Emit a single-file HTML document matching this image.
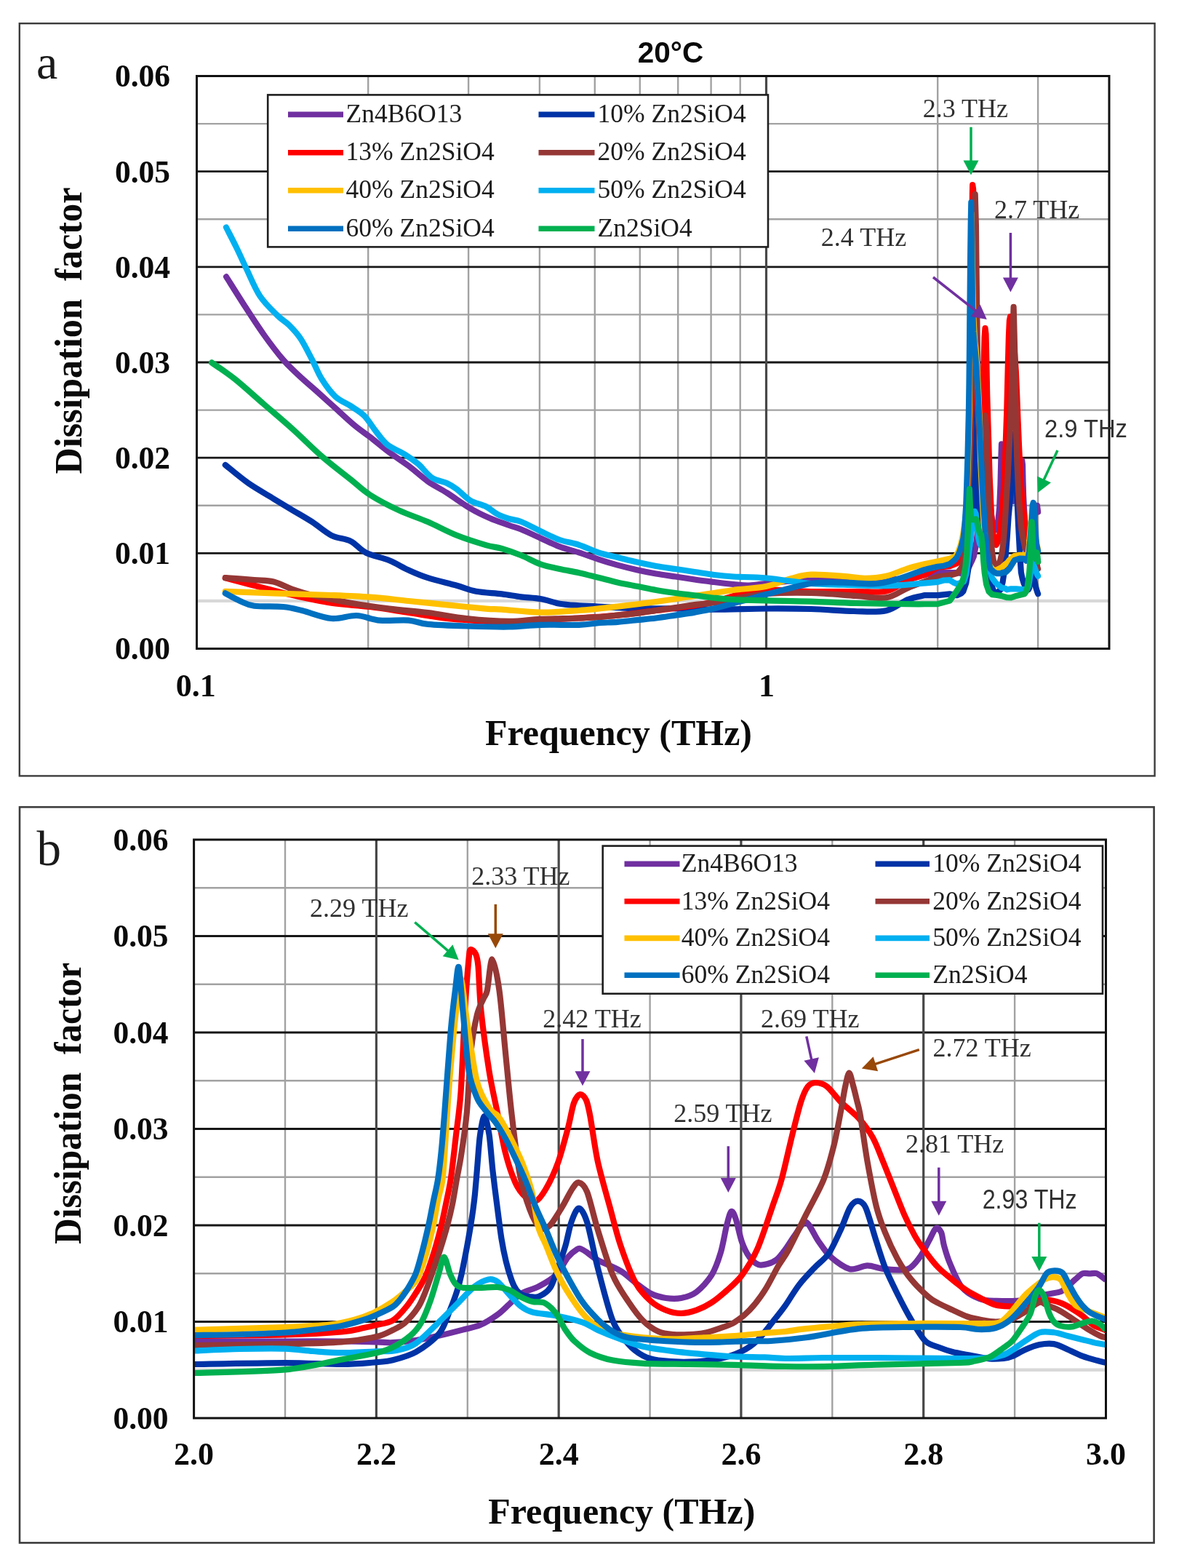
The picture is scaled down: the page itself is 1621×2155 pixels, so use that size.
<!DOCTYPE html>
<html><head><meta charset="utf-8"><title>Dissipation factor vs frequency</title>
<style>
html,body{margin:0;padding:0;background:#fff;}
body{width:1621px;height:2155px;overflow:hidden;}
svg{display:block;}
</style></head><body>
<svg width="1621" height="2155" viewBox="0 0 1621 2155"><rect x="26.8" y="32.2" width="1560.8" height="1034.2" fill="none" stroke="#3c3c3c" stroke-width="2.4"/><rect x="27" y="1109.2" width="1559.6" height="1011.2" fill="none" stroke="#3c3c3c" stroke-width="2.6"/><line x1="270.5" y1="825.9" x2="1525" y2="825.9" stroke="#d8d8d8" stroke-width="4.4"/><line x1="270.5" y1="694.8" x2="1525" y2="694.8" stroke="#a2a2a2" stroke-width="2.4"/><line x1="270.5" y1="563.6" x2="1525" y2="563.6" stroke="#a2a2a2" stroke-width="2.4"/><line x1="270.5" y1="432.4" x2="1525" y2="432.4" stroke="#a2a2a2" stroke-width="2.4"/><line x1="270.5" y1="301.2" x2="1525" y2="301.2" stroke="#a2a2a2" stroke-width="2.4"/><line x1="270.5" y1="170.1" x2="1525" y2="170.1" stroke="#a2a2a2" stroke-width="2.4"/><line x1="506.2" y1="104.5" x2="506.2" y2="891.5" stroke="#a2a2a2" stroke-width="2.4"/><line x1="644.1" y1="104.5" x2="644.1" y2="891.5" stroke="#a2a2a2" stroke-width="2.4"/><line x1="741.9" y1="104.5" x2="741.9" y2="891.5" stroke="#a2a2a2" stroke-width="2.4"/><line x1="817.8" y1="104.5" x2="817.8" y2="891.5" stroke="#a2a2a2" stroke-width="2.4"/><line x1="879.8" y1="104.5" x2="879.8" y2="891.5" stroke="#a2a2a2" stroke-width="2.4"/><line x1="932.2" y1="104.5" x2="932.2" y2="891.5" stroke="#a2a2a2" stroke-width="2.4"/><line x1="977.6" y1="104.5" x2="977.6" y2="891.5" stroke="#a2a2a2" stroke-width="2.4"/><line x1="1017.7" y1="104.5" x2="1017.7" y2="891.5" stroke="#a2a2a2" stroke-width="2.4"/><line x1="1289.2" y1="104.5" x2="1289.2" y2="891.5" stroke="#a2a2a2" stroke-width="2.4"/><line x1="1427.1" y1="104.5" x2="1427.1" y2="891.5" stroke="#a2a2a2" stroke-width="2.4"/><line x1="270.5" y1="760.3" x2="1525" y2="760.3" stroke="#161616" stroke-width="2.8"/><line x1="270.5" y1="629.2" x2="1525" y2="629.2" stroke="#161616" stroke-width="2.8"/><line x1="270.5" y1="498" x2="1525" y2="498" stroke="#161616" stroke-width="2.8"/><line x1="270.5" y1="366.8" x2="1525" y2="366.8" stroke="#161616" stroke-width="2.8"/><line x1="270.5" y1="235.7" x2="1525" y2="235.7" stroke="#161616" stroke-width="2.8"/><line x1="1053.5" y1="104.5" x2="1053.5" y2="891.5" stroke="#484848" stroke-width="3.2"/><line x1="266.6" y1="1882.8" x2="1520.5" y2="1882.8" stroke="#d8d8d8" stroke-width="4.4"/><line x1="266.6" y1="1750.2" x2="1520.5" y2="1750.2" stroke="#a2a2a2" stroke-width="2.4"/><line x1="266.6" y1="1617.8" x2="1520.5" y2="1617.8" stroke="#a2a2a2" stroke-width="2.4"/><line x1="266.6" y1="1485.2" x2="1520.5" y2="1485.2" stroke="#a2a2a2" stroke-width="2.4"/><line x1="266.6" y1="1352.8" x2="1520.5" y2="1352.8" stroke="#a2a2a2" stroke-width="2.4"/><line x1="266.6" y1="1220.2" x2="1520.5" y2="1220.2" stroke="#a2a2a2" stroke-width="2.4"/><line x1="392" y1="1154" x2="392" y2="1949" stroke="#a2a2a2" stroke-width="2.4"/><line x1="642.8" y1="1154" x2="642.8" y2="1949" stroke="#a2a2a2" stroke-width="2.4"/><line x1="893.6" y1="1154" x2="893.6" y2="1949" stroke="#a2a2a2" stroke-width="2.4"/><line x1="1144.3" y1="1154" x2="1144.3" y2="1949" stroke="#a2a2a2" stroke-width="2.4"/><line x1="1395.1" y1="1154" x2="1395.1" y2="1949" stroke="#a2a2a2" stroke-width="2.4"/><line x1="266.6" y1="1816.5" x2="1520.5" y2="1816.5" stroke="#161616" stroke-width="2.8"/><line x1="266.6" y1="1684" x2="1520.5" y2="1684" stroke="#161616" stroke-width="2.8"/><line x1="266.6" y1="1551.5" x2="1520.5" y2="1551.5" stroke="#161616" stroke-width="2.8"/><line x1="266.6" y1="1419" x2="1520.5" y2="1419" stroke="#161616" stroke-width="2.8"/><line x1="266.6" y1="1286.5" x2="1520.5" y2="1286.5" stroke="#161616" stroke-width="2.8"/><line x1="517.4" y1="1154" x2="517.4" y2="1949" stroke="#484848" stroke-width="3.2"/><line x1="768.2" y1="1154" x2="768.2" y2="1949" stroke="#484848" stroke-width="3.2"/><line x1="1018.9" y1="1154" x2="1018.9" y2="1949" stroke="#484848" stroke-width="3.2"/><line x1="1269.7" y1="1154" x2="1269.7" y2="1949" stroke="#484848" stroke-width="3.2"/><defs><clipPath id="cb"><rect x="266.6" y="1154" width="1253.9" height="795"/></clipPath><clipPath id="ca"><rect x="270.5" y="104.5" width="1254.5" height="787"/></clipPath></defs><g clip-path="url(#ca)" fill="none" stroke-width="8.2" stroke-linejoin="round" stroke-linecap="round"><path d="M311.1,380.4C315.3,387 327.7,406.9 336.3,420.2C344.9,433.5 354,447.6 362.8,460C371.6,472.4 381.4,485.2 389.4,494.5C397.4,503.8 403.1,508.6 410.6,515.7C418.1,522.8 426.1,529.4 434.5,536.9C442.9,544.4 452.2,552.8 461,560.8C469.8,568.8 479.6,578 487.5,584.6C495.4,591.2 500.7,594.4 508.7,600.6C516.7,606.8 526.4,615.2 535.3,621.8C544.1,628.4 553,633.7 561.8,640.3C570.6,646.9 579.5,655.4 588.3,661.6C597.1,667.8 605.1,671.3 614.8,677.5C624.5,683.7 637,693 646.7,698.7C656.4,704.5 664.3,708.1 673.2,712C682.1,715.9 692.8,719.4 700,722C707.2,724.6 709.3,724.6 716.5,727.5C723.7,730.4 734.1,735.5 743,739.5C751.9,743.5 760.8,748.1 769.6,751.4C778.4,754.7 787.2,756.5 796,759.4C804.8,762.3 813.8,765.7 822.6,768.6C831.4,771.5 840.1,774.2 849,776.6C857.9,779 866.9,781.2 875.7,783.2C884.5,785.2 893.2,787 902,788.5C910.8,790 919.9,791.2 928.7,792.5C937.5,793.8 946.1,795.2 955,796.5C963.9,797.8 972.9,798.9 981.8,800C990.7,801.1 1000.3,802.2 1008.3,803C1016.3,803.8 1021.4,804.8 1030,804.5C1038.6,804.2 1048.3,802.1 1060,801C1071.7,799.9 1085,798.7 1100,798C1115,797.3 1133.3,797.2 1150,797C1166.7,796.8 1183.7,797.4 1200,797C1216.3,796.6 1236.3,796 1248,794.8C1259.7,793.6 1266.3,790.8 1270,790 L1289.2,787.1 1297.7,787.1 1305.8,787.1 1315.7,787.1 1321.7,788 1324.4,788.7 1328.3,785.6 1332.2,779.2 1336,771.3 1338.8,764.9 1341.6,750.6 1343.5,736.4 1345.3,722 1348.1,712.5 1350.8,696.7 1352.6,672.8 1354,661.7 1354.7,661.3 1355.7,666.8 1357.2,676.5 1360.7,691 1363,707.6 1365.2,722 1367.5,728.2 1369.7,728.2 1372,719.9 1374.2,697.2 1375.5,666.2 1376.4,629 1377,610.4 1377.7,620.8 1378.5,651.7 1379.6,672.4 1380.9,682.7 1382.2,681.6 1383.5,675.7 1384.7,662.5 1386.2,641 1387.6,624.9 1389.3,650.5 1391,672 1393.7,688.8 1396.1,684 1398.5,688.8 1401.5,688.8 1403.2,672 1404.3,650.5 1405.3,633.2 1406,638.7 1406.4,657.3 1407.1,681.3 1408.7,713.5 1411,729.2 1413.2,732 1416.9,731 1419.6,723.2 1421.5,719.3 1422.4,711.4 1423.3,702.6 1424.2,694.8 1425.1,694.9 1426,694.8 1427.1,703.6" stroke="#7030A0"/><path d="M309.8,639C315.1,643.2 330.6,656.5 341.6,664.2C352.7,671.9 365.9,679.2 376.1,685.4C386.3,691.6 393.8,696.1 402.6,701.4C411.5,706.7 420.4,711.6 429.2,717.3C438,723 446.9,731.4 455.7,735.8C464.5,740.2 474.2,739.8 482.2,743.8C490.1,747.8 494.5,755.3 503.4,759.7C512.2,764.1 525.6,766.3 535.3,770.3C545,774.3 553,779.6 561.8,783.6C570.6,787.6 577.3,790.7 588.3,794.2C599.3,797.7 617,801.7 628,804.8C639,807.9 644.3,810.9 654.6,812.8C664.9,814.7 679.7,815.1 690,816.4C700.3,817.7 707.7,819.3 716.5,820.4C725.3,821.5 734.1,821.5 743,823C751.9,824.5 760.8,828.2 769.6,829.7C778.4,831.2 787.2,831.6 796,832.3C804.8,832.9 809.3,832.9 822.6,833.6C835.9,834.3 858,835.8 875.7,836.3C893.4,836.8 911,836.1 928.7,836.3C946.4,836.5 960.9,837.6 981.8,837.6C1002.7,837.6 1031.8,836.6 1054,836.5C1076.2,836.4 1095,836.4 1115,837C1135,837.6 1156.8,839.6 1174,840C1191.2,840.4 1206.1,841.9 1218.4,839.2C1230.7,836.5 1239.1,827.5 1248,824C1256.9,820.5 1268,819 1272,818 L1289.2,818.2 1305.8,816.4 1315.7,818.2 1321.7,815.5 1324.4,812.6 1328.3,801.4 1332.2,776.1 1333.9,744 1335.1,717.9 1335.8,695.9 1336.6,659.1 1337.2,629.7 1337.6,607.4 1337.9,585.6 1338.3,546 1338.8,506.4 1339.5,480.7 1340.2,505.4 1340.8,556.9 1341.6,608.4 1342.2,647 1342.9,678.7 1343.8,704.4 1344.6,717.3 1345.5,723.9 1346.6,726.2 1348.1,726.2 1349.9,714.1 1351.2,685.6 1352.2,657 1353.1,625.2 1354.3,606.1 1355.6,624.8 1357.2,686.9 1359.5,759.2 1361.8,790.2 1364.1,806.8 1366.4,812.9 1370.8,815 1375.3,810.8 1378.5,800.5 1380.7,786.1 1382.9,761.2 1384.7,739 1386.6,710.2 1388.8,686.4 1390.8,667.3 1392.5,633.8 1393.7,605.2 1394.8,596.2 1395.8,605.2 1397.3,650.5 1398.5,686.4 1400.1,722.2 1402,758.1 1403.9,786.7 1405.7,795.5 1407.5,801.4 1409.4,805.4 1412.3,810.8 1414.1,810.3 1415.3,807.4 1416.9,798.4 1418.7,791.6 1420.6,790.6 1422.4,798.4 1424.2,807.3 1426,813.1 1427.1,816.1" stroke="#0033A6"/><path d="M309.8,794.2C316.4,796 334.1,800.8 349.6,804.8C365.1,808.8 384.9,814 402.6,818C420.3,822 438,826 455.7,828.7C473.4,831.4 491,831.8 508.7,834C526.4,836.2 544.1,839.3 561.8,842C579.5,844.7 597.1,848 614.8,850C632.5,852 653.7,853.1 667.9,853.9C682.1,854.7 687.5,855.3 700,855C712.5,854.7 727,853.1 743,852.2C759,851.3 778.3,850.6 796,849.5C813.7,848.4 831.3,847.4 849,845.6C866.7,843.9 884.3,841.2 902,839C919.7,836.8 941.7,834.3 955,832.3C968.3,830.3 971,829.7 981.8,827C992.6,824.3 1008,818.7 1020,816C1032,813.3 1038.2,811.1 1054,810.6C1069.8,810.1 1094.5,812.6 1115,813C1135.5,813.4 1159.8,813.1 1177,813C1194.2,812.9 1206.6,815 1218.4,812.5C1230.2,810 1239.1,801.5 1248,797.7C1256.9,794 1268,791.3 1272,790 L1289.2,779.6 1305.8,778.2 1315.7,774.2 1319.5,768.7 1321.7,764.8 1324.4,758.7 1326.7,740 1328.6,716.3 1330,695.3 1331.3,664.8 1332.5,629.2 1333.2,600.5 1334,565.8 1334.9,506.4 1335.6,447.5 1336.3,337.3 1336.9,266.8 1337.2,254 1338.1,259.9 1338.5,276.7 1338.9,337.3 1340.2,420 1341.5,475 1342.8,530.2 1344.4,571.5 1346,590.8 1347.6,596.3 1349.2,579.7 1351.1,543.9 1352.7,496.5 1353.6,462.9 1354.5,451.1 1355.5,458.9 1356,480.2 1357.2,542.2 1359.1,604.2 1360.7,655.9 1363,707.6 1365.2,732.3 1367.5,744.7 1369.7,748.9 1372,744.7 1374.2,734.4 1376.4,717.9 1378.5,697.2 1380.7,662 1382.9,604.2 1384.2,567 1385.7,507.3 1386.9,461.9 1387.9,440.5 1389,435.1 1390.5,440.5 1392.5,461.9 1394.9,483.4 1396.8,509.7 1398.2,543.1 1399.6,579 1401.1,614.7 1402.5,643.4 1403.9,664.9 1405.6,686.6 1407.5,703.4 1409.4,718.1 1411.2,728.8 1413.1,737.6 1415,739.5 1416,739 1417.8,734.1 1419.6,730.6 1421.5,734.9 1422.8,742.7 1424.2,752.5 1425.5,765.2 1426.4,769.1 1427.1,772" stroke="#FF0000"/><path d="M309.8,794.2C316.4,794.7 338.6,796.1 349.6,797C360.7,797.9 367.3,797.3 376.1,799.5C384.9,801.7 393.8,807 402.6,810.1C411.5,813.2 415.9,814.9 429.2,818C442.5,821.1 464.5,825.6 482.2,828.7C499.9,831.8 517.6,834.4 535.3,836.6C553,838.8 570.6,839.8 588.3,842C606,844.2 622.8,848 641.4,850C660,852 683.1,853.8 700,853.9C716.9,854 727,851.6 743,850.9C759,850.2 782.7,850 796,849.5C809.3,849 813.8,848.9 822.6,848.2C831.4,847.6 840.1,846.5 849,845.6C857.9,844.7 866.9,844.1 875.7,843C884.5,841.9 893.2,840.3 902,839C910.8,837.7 919.9,836.3 928.7,835C937.5,833.7 946.1,832.1 955,831C963.9,829.9 971,830 981.8,828.3C992.6,826.6 1008,823 1020,821C1032,819 1038.2,817 1054,816C1069.8,815 1094.5,814.5 1115,815C1135.5,815.5 1159.8,817.9 1177,819C1194.2,820.1 1206.6,823.2 1218.4,821.4C1230.2,819.6 1239.1,811.8 1248,808.1C1256.9,804.4 1268,800.5 1272,799 L1289.2,792.5 1305.8,790.7 1315.7,788 1321.7,780.6 1324.4,771.7 1326.4,761.8 1328.7,740 1329.9,719.3 1330.9,695.3 1332.2,662.8 1333.5,629.2 1334.3,600.5 1335,565.8 1335.7,534.1 1336.6,475 1337.3,392.4 1338.3,342.8 1339.3,320.3 1339.9,309.7 1340.7,267.2 1341.9,309.7 1342.8,392.4 1343.8,475 1345.1,557.7 1346.7,607.3 1348.2,632.1 1349.8,629.4 1351.7,604.5 1353.3,579.7 1354.3,571 1355.6,583.5 1357.2,635.1 1359.5,697.2 1361.8,732.3 1364.1,759.2 1366.4,773.7 1368.6,777.8 1370.8,777.8 1373.1,775.7 1375.3,769.5 1377.4,761.2 1379.6,744.7 1381.8,717.9 1383.7,684.6 1385.2,662.5 1387.6,614.7 1390.1,567 1391.5,519.3 1392.5,471.5 1393,441.1 1393.6,421.8 1394.1,439.1 1394.6,458.9 1395.1,480.7 1396.1,543.1 1397.3,602.8 1398.5,638.7 1400.1,674.4 1402,703.1 1404.3,727 1405.6,735.1 1407.5,744.4 1409.4,753.4 1411.2,757.9 1413.1,760.3 1415,758.2 1416.8,747.4 1418.7,734.1 1419.6,737.6 1421,743.7 1422.4,752.5 1423.7,762.3 1425.1,772 1426.4,779.8 1427.1,781.8" stroke="#953735"/><path d="M309.8,812.8C320.9,813.2 351.8,814.5 376.1,815.4C400.4,816.3 433.6,817.1 455.7,818C477.8,818.9 491,819.4 508.7,820.7C526.4,822 544.1,824.2 561.8,826C579.5,827.8 597.1,829.5 614.8,831.3C632.5,833.1 655.4,835.5 667.9,836.6C680.4,837.7 677.5,836.8 690,837.6C702.5,838.4 725.3,841.4 743,841.6C760.7,841.8 778.3,840.3 796,839C813.7,837.7 831.3,835.6 849,833.6C866.7,831.6 884.3,829.4 902,827C919.7,824.6 941.7,821 955,819C968.3,817 972.9,816.3 981.8,815C990.7,813.7 996.3,812.5 1008.3,811C1020.3,809.5 1040.7,808.4 1054,805.7C1067.3,803 1077.8,797.7 1088,795C1098.2,792.3 1103.2,790.1 1115,789.6C1126.8,789.1 1146.7,790.9 1159,791.8C1171.3,792.7 1178.9,794.8 1188.8,794.8C1198.7,794.8 1208.5,794 1218.4,791.8C1228.3,789.6 1239.1,784.2 1248,781.4C1256.9,778.6 1268,776.1 1272,775 L1289.2,771.5 1305.8,767.8 1313.7,764.4 1317.9,757.7 1321.3,747.6 1324.2,734.1 1326.3,720.7 1328.3,703.9 1329.7,674.7 1331.1,629.2 1331.9,595.5 1332.7,565.8 1333.2,506.4 1333.7,447.5 1334.3,387.6 1334.9,338.1 1335.6,293.4 1336.6,351 1338.3,433.8 1340.2,469.5 1341.6,479.7 1342.5,491.6 1343.9,514.3 1345.5,544 1347,582.6 1348,631.1 1349.2,655.9 1350.8,689.9 1352.3,716.3 1354.9,748.9 1357.2,767.5 1359.5,775.7 1364.1,781.9 1368.6,784 1373.1,781.9 1377.4,779.8 1381.8,775.7 1384.7,773.7 1387.6,769.9 1394.9,764 1402,762.8 1408.5,762.8 1411.3,762.8 1413.6,761.3 1415,748.9 1416.8,725.2 1418.6,708.4 1419.6,701.4 1420.7,699.7 1421.5,703.6 1422.4,723.2 1423.3,737.9 1424.6,744.7 1426,750.5 1427.1,755.4" stroke="#FFC000"/><path d="M311,312.5C313.3,317.1 320.3,330.4 325,340C329.7,349.6 333.6,358.6 339,369.8C344.4,381 350.4,396.4 357.5,407C364.6,417.6 374.8,426.9 381.4,433.5C388,440.1 392,441.4 397.3,446.7C402.6,452 407.9,457.3 413.2,465.3C418.5,473.3 424.3,485.2 429.2,494.5C434.1,503.8 437.1,512.6 442.4,521C447.7,529.4 454.4,538.7 461,544.9C467.6,551.1 475.6,553.6 482.2,558C488.8,562.4 495.1,565.6 500.8,571.4C506.6,577.2 511.4,586 516.7,592.6C522,599.2 526,605.9 532.6,611.2C539.2,616.5 549.4,620 556.5,624.4C563.6,628.8 568.8,632.4 575,637.7C581.2,643 587,651.9 593.6,656.3C600.2,660.7 609.1,661.6 614.8,664.2C620.5,666.9 622.7,668.2 628,672.2C633.3,676.2 640.1,684 646.7,688C653.4,692 661.7,692.9 667.9,696C674.1,699.1 678.4,703.9 683.8,706.7C689.1,709.5 694.5,711.3 700,713C705.5,714.7 709.3,714.2 716.5,717C723.7,719.8 734.1,725.8 743,730C751.9,734.2 760.8,738.9 769.6,742C778.4,745.1 787.2,745.9 796,748.8C804.8,751.7 813.8,756.5 822.6,759.4C831.4,762.3 840.1,763.8 849,766C857.9,768.2 866.9,770.6 875.7,772.6C884.5,774.6 893.2,776.4 902,778C910.8,779.6 919.9,780.7 928.7,782C937.5,783.3 946.1,784.7 955,786C963.9,787.3 972.9,788.9 981.8,790C990.7,791.1 996.3,791.8 1008.3,792.5C1020.3,793.2 1036.2,792.9 1054,794.5C1071.8,796.1 1097.5,800.5 1115,802C1132.5,803.5 1142,803.1 1159.2,803.6C1176.4,804.1 1201.1,805.3 1218.4,805.1C1235.7,804.9 1255.5,802.7 1262.9,802.2 L1289.2,799.9 1297.7,797.5 1305.8,797.2 1310.7,800.4 1315.7,802.6 1321.7,800.8 1325,799.4 1328.3,789.5 1332.2,760.1 1335,736.4 1337.9,712.5 1340.1,702.8 1341.6,706.2 1343.5,723.6 1345.3,739.5 1347.2,747.5 1350.8,752.2 1354.9,761.2 1357.2,771.6 1360.7,784 1364.1,794.3 1368.6,800.5 1373.1,804.7 1377.4,807.8 1381.8,808.7 1384.7,810.3 1390.1,809.3 1397.3,809.3 1408.5,810.3 1412.3,809.3 1414.1,805.4 1415.2,798.9 1416.9,786.6 1418.7,775 1420.6,775 1422.4,779.8 1424.2,784.8 1426,789.6 1427.1,791.6" stroke="#00B0F0"/><path d="M309.8,815.4C313.2,817.2 323.4,823.1 330,826C336.6,828.9 339.7,831.4 349.6,832.7C359.5,834 378.3,832.9 389.4,834C400.4,835.1 404.8,836.6 415.9,839.3C426.9,842 443.3,848.9 455.7,850C468.1,851.1 479.1,845.6 490.2,846C501.2,846.4 510.1,851.5 522,852.6C533.9,853.7 550.8,851.7 561.8,852.6C572.8,853.5 575,856.6 588.3,857.9C601.6,859.2 622.8,859.9 641.4,860.5C660,861.1 683.1,861.8 700,861.5C716.9,861.2 727,859.2 743,858.8C759,858.3 782.7,859.2 796,858.8C809.3,858.4 813.8,856.9 822.6,856.2C831.4,855.5 840.1,855.5 849,854.8C857.9,854.1 866.9,853.1 875.7,852.2C884.5,851.3 893.2,850.6 902,849.5C910.8,848.4 919.9,846.9 928.7,845.6C937.5,844.3 946.1,843.2 955,841.6C963.9,840 971,838.9 981.8,836.3C992.6,833.7 1008,829.2 1020,826C1032,822.8 1038.2,820.8 1054,816.8C1069.8,812.8 1097.5,804.7 1115,802C1132.5,799.3 1144.4,800.7 1159.2,800.7C1174,800.7 1191.2,803 1203.6,802.2C1215.9,801.5 1223.4,798.9 1233.3,796.2C1243.2,793.5 1256,788.3 1262.9,785.9C1269.9,783.5 1273,782.6 1275,782 L1289.2,778.8 1297.7,777.7 1305.8,775.2 1311.9,770.2 1315.7,766 1319.5,757.9 1321.9,749.9 1324.4,740 1325.5,731.1 1326.8,716.3 1328.2,695.3 1329.2,666.8 1330.4,629.2 1331.2,595.5 1331.9,565.8 1332.5,526.2 1333,475 1334,364.9 1334.7,308.4 1335.3,278.2 1336,337.3 1337,420 1338.3,455.7 1339.6,472.3 1341.2,488.8 1342.8,510.9 1344.4,538.4 1346,568.8 1347.6,604.5 1349.2,634.8 1350.8,667.9 1352.3,695.5 1354.8,732.3 1357.2,757.2 1359.5,773.7 1361.8,781.9 1366.4,786.1 1370.8,788.2 1375.3,788.2 1379.6,786.6 1382.7,786.6 1387.6,781.9 1394.9,769.9 1402,767.6 1408.5,767.8 1410.8,770.7 1413.1,768.7 1415,758.2 1416.8,737.6 1418.6,713.1 1419.6,694.5 1420.7,690.9 1421.6,693.9 1422.4,707.6 1423.3,725.2 1424.2,738.9 1425.1,747.7 1426.2,753.5 1427.1,757.4" stroke="#0070C0"/><path d="M291.2,498.4C296.5,502.2 311.1,511.5 323,521C334.9,530.5 349.5,544 362.8,555.5C376.1,567 389.3,578.1 402.6,590C415.9,601.9 429.1,615.6 442.4,627.1C455.7,638.6 471.1,650.2 482.2,659C493.2,667.8 497.6,673 508.7,680.1C519.8,687.2 535.2,695.2 548.5,701.4C561.8,707.6 575,711.6 588.3,717.3C601.5,723 614.7,730.5 628,735.8C641.3,741.1 657.6,746.1 667.9,749.1C678.2,752.1 681.9,751.6 690,754C698.1,756.4 707.7,759.8 716.5,763.3C725.3,766.8 734.1,772.2 743,775.3C751.9,778.4 760.8,780 769.6,782C778.4,784 787.2,785.2 796,787.2C804.8,789.2 813.8,791.6 822.6,793.8C831.4,796 840.1,798.5 849,800.5C857.9,802.5 866.9,804 875.7,805.8C884.5,807.5 893.2,809.5 902,811C910.8,812.5 919.9,813.8 928.7,815C937.5,816.2 946.1,817.1 955,818.2C963.9,819.3 972.9,820.7 981.8,821.7C990.7,822.7 996.3,823.4 1008.3,824C1020.3,824.6 1036.2,825 1054,825.4C1071.8,825.8 1094.5,826 1115,826.6C1135.5,827.2 1152.3,828.4 1177,829C1201.7,829.6 1248.6,830.1 1262.9,830.3 L1289.2,830.1 1305.8,825.6 1315.7,811.8 1321.7,802.6 1324.4,795.1 1327.3,779.6 1329.1,761.8 1330.7,731.1 1332,695.3 1332.9,672.2 1333.9,695.3 1334.8,709.4 1336,714.1 1338.8,714.1 1341.6,713.3 1343.5,717.3 1345.3,726.8 1347.2,733.1 1349,734.8 1350.8,749 1352.2,771.3 1353.7,787.2 1356,802.6 1359.5,812.9 1364.1,817.1 1370.8,818 1377.4,819.1 1384.7,821.2 1390.1,821.3 1397.3,818.9 1408.5,816.3 1410.4,813.8 1412.3,808.3 1414,796.5 1415.2,786.6 1416.4,769.7 1417.5,749.9 1418.2,725.2 1418.7,717.3 1419.3,725.2 1419.9,747.7 1420.6,760.3 1421.5,766.2 1422.8,767.2 1424.2,762.3 1425.3,759.3 1426.4,764.2 1427.1,772" stroke="#00B050"/></g><g clip-path="url(#cb)" fill="none" stroke-width="8.2" stroke-linejoin="round" stroke-linecap="butt"><path d="M266.6,1843.5C276.1,1843.5 311.2,1843.5 330,1843.5C348.8,1843.5 371,1843.5 391.9,1843.5C412.8,1843.5 450.7,1843.4 469.6,1843.5C488.5,1843.6 507.1,1844.1 517.7,1844.4C528.3,1844.7 531.8,1845.6 540,1845.2C548.2,1844.8 562.5,1843.4 572.1,1842C581.7,1840.6 594.6,1837.8 604.2,1835.6C613.8,1833.4 627.8,1829.8 636.2,1827.6C644.6,1825.4 653.1,1824.2 660.3,1821.1C667.5,1818 678.3,1811 684.3,1806.7C690.3,1802.4 695.6,1796.6 700.4,1792.3C705.2,1788 710.4,1781.4 716.4,1777.8C722.4,1774.2 733.3,1772 740.5,1768.2C747.7,1764.4 758.5,1758.2 764.5,1752.2C770.5,1746.2 776.3,1733.4 780.6,1728.1C784.9,1722.8 790.6,1718.6 793.4,1716.9C796.2,1715.2 796.8,1715.7 799,1716.5C801.2,1717.3 804.6,1719.7 808,1722C811.4,1724.3 815,1728.1 821.8,1731.8C828.5,1735.5 845.2,1741.8 853,1746.5C860.8,1751.2 867.7,1758.5 874,1763.2C880.3,1767.9 888.5,1774.7 894.8,1777.8C901.1,1780.9 909.4,1783.1 915.7,1784C922,1784.9 930.3,1785.2 936.6,1784C942.9,1782.8 951.2,1780.4 957.5,1775.7C963.8,1771 973.3,1760.8 978.3,1752.7C983.3,1744.6 987.8,1731.7 990.9,1721.4C994,1711.1 997,1692.3 999.2,1683.8C1001.4,1675.3 1003.6,1666.2 1005.5,1665C1007.4,1663.8 1009.5,1669.2 1011.7,1675.5C1013.9,1681.8 1017.2,1699 1020,1706.8C1022.8,1714.6 1027,1723 1030.5,1727.7C1034,1732.4 1039.2,1736.7 1043,1738.1C1046.8,1739.5 1051.8,1738.1 1055.6,1737C1059.4,1735.9 1064.5,1733.9 1068.1,1731C1071.7,1728.1 1075.4,1723 1079.3,1717.7C1083.2,1712.5 1089.7,1701.7 1094,1696C1098.3,1690.3 1103.5,1678.3 1108.2,1679.7C1112.9,1681.1 1120,1698.5 1125.1,1705.6C1130.2,1712.7 1135.5,1721.5 1142,1727.3C1148.5,1733.1 1160.9,1742.4 1168.5,1744.2C1176.1,1746 1185.5,1739.4 1192.7,1739.4C1199.9,1739.4 1208.5,1743.5 1216.8,1744.2C1225.1,1744.9 1240.9,1746.7 1248.1,1744.2C1255.3,1741.7 1260.7,1733.1 1265,1727.3C1269.3,1721.5 1273.8,1711.5 1277.1,1705.6C1280.4,1699.7 1284.2,1689.9 1286.7,1688.1C1289.2,1686.3 1292.3,1690 1294,1693.6C1295.7,1697.2 1296.3,1705.9 1298.1,1712.4C1299.9,1718.9 1302.5,1728.2 1306.2,1736.7C1309.9,1745.2 1316.4,1762 1322.5,1769.2C1328.6,1776.4 1339.7,1782.2 1346.8,1785C1353.9,1787.8 1360.6,1787.6 1370,1787.9C1379.4,1788.2 1399.1,1788.2 1409.5,1786.9C1419.9,1785.6 1431.7,1780.8 1439.1,1779C1446.5,1777.2 1454.4,1776.8 1458.8,1775C1463.2,1773.2 1465.7,1769.6 1468.7,1767.1C1471.7,1764.6 1475.6,1760.7 1478.6,1758.2C1481.6,1755.7 1485.5,1751.5 1488.5,1750.3C1491.5,1749.1 1495.3,1750.4 1498.3,1750.4C1501.3,1750.4 1504.9,1749 1508.2,1750.3C1511.5,1751.6 1518.7,1757.9 1520.5,1759.2" stroke="#7030A0"/><path d="M266.6,1875C285.4,1874.7 361.4,1873.1 391.9,1873.1C422.3,1873.1 450.7,1875.1 469.6,1875C488.5,1874.9 507.1,1873.1 517.7,1872.2C528.3,1871.3 531.8,1871.4 540,1869.3C548.2,1867.2 562.5,1863.5 572.1,1858C581.7,1852.5 597.2,1841.1 604.2,1832.4C611.2,1823.7 615.2,1808.8 618.9,1800C622.6,1791.2 626.3,1780.9 628.6,1773.6C630.9,1766.3 632.5,1760.3 634.5,1751.4C636.5,1742.5 640,1724.2 641.9,1714.2C643.8,1704.2 645.8,1692.3 647.1,1684.5C648.4,1676.7 649.6,1668.7 650.5,1662C651.4,1655.3 652.2,1649.3 653.1,1640C654,1630.7 655.5,1612 656.5,1600C657.5,1588 658.6,1569.9 660,1560C661.4,1550.1 664.1,1534.2 666,1534C667.9,1533.8 670.7,1547.5 672.5,1559C674.3,1570.5 675.9,1595.4 677.7,1611C679.5,1626.6 682.4,1649.3 684.2,1663C686,1676.7 687.7,1691.3 689.4,1702C691.1,1712.7 693.7,1725.3 695.8,1734C697.9,1742.7 701.5,1754.2 703.6,1760C705.7,1765.8 707.9,1770 710.1,1773C712.3,1776 715.3,1778.4 718,1779.7C720.7,1781 724.6,1781.7 728,1782C731.4,1782.3 736.2,1783.8 740.5,1782C744.8,1780.2 752.4,1776 756.5,1769.8C760.6,1763.6 764.6,1749.7 767.7,1741C770.8,1732.3 774.7,1721.2 777.4,1712.1C780.1,1702.9 782.7,1687.7 785.4,1680C788.1,1672.3 792.4,1660.8 795.7,1660.7C799,1660.6 803.2,1667.4 807.1,1679.6C811,1691.8 816.5,1721.9 821.8,1742.3C827.1,1762.7 836.3,1799.7 842.6,1815.4C848.9,1831.1 857.2,1839.5 863.5,1846.7C869.8,1853.9 878.1,1860 884.4,1863.4C890.7,1866.8 895.9,1868.4 905.3,1869.6C914.7,1870.8 934.5,1872 947,1871.7C959.5,1871.4 977.8,1869.7 988.8,1867.5C999.8,1865.3 1012.2,1860.8 1020,1857.1C1027.8,1853.3 1034.7,1848.5 1041,1842.5C1047.3,1836.5 1056.1,1824.5 1061.8,1817.4C1067.5,1810.3 1073.8,1802.6 1079.3,1794.9C1084.8,1787.2 1092.4,1773.9 1098.6,1765.9C1104.8,1757.9 1114.1,1748.3 1120.3,1741.8C1126.5,1735.3 1134.2,1730.5 1139.6,1722.5C1145,1714.5 1152.2,1698.1 1156.5,1688.7C1160.8,1679.3 1165.1,1665.5 1168.5,1659.8C1171.9,1654.1 1176.1,1650.7 1179.4,1650.7C1182.7,1650.7 1186.4,1651.6 1190.2,1659.8C1194,1668 1200.7,1693.3 1204.7,1705.6C1208.7,1717.9 1212.5,1730.9 1216.8,1741.8C1221.1,1752.7 1228.3,1767.1 1233.7,1778C1239.1,1788.9 1247.2,1804.4 1253,1814.2C1258.8,1824 1266.5,1837.4 1272.3,1843.1C1278.1,1848.8 1286,1849.8 1291.6,1852C1297.2,1854.2 1303.9,1856.5 1309.7,1858C1315.5,1859.5 1322.3,1860.6 1330,1862C1337.7,1863.4 1353.3,1866.8 1360.8,1867.5C1368.3,1868.2 1375.3,1867.5 1380,1867C1384.7,1866.5 1387.6,1865.8 1392,1864C1396.4,1862.2 1403.9,1857.4 1409.5,1855C1415.1,1852.6 1423.3,1849.3 1429.2,1848.1C1435.1,1846.9 1443.1,1846.1 1449,1847.1C1454.9,1848.1 1462.8,1852.5 1468.7,1855C1474.6,1857.5 1482.6,1861.7 1488.5,1863.9C1494.4,1866.1 1503.4,1868.5 1508.2,1869.8C1513,1871.1 1518.7,1872.3 1520.5,1872.8" stroke="#0033A6"/><path d="M266.6,1836C285.4,1835.8 361.4,1835.3 391.9,1834.5C422.3,1833.7 453.4,1831.9 469.6,1830.5C485.8,1829.1 492.8,1826.4 500,1825C507.2,1823.6 511.7,1822.5 517.7,1821C523.7,1819.5 533.9,1818.5 540,1814.8C546.1,1811 553.4,1802.4 558.6,1796C563.9,1789.6 570.8,1778.8 575,1772C579.2,1765.2 583.1,1758.6 586.4,1750.8C589.7,1743 593.9,1730 597,1720C600.1,1710 604.4,1693.8 606.8,1684C609.2,1674.2 611,1664.6 613,1655C615,1645.4 617.7,1634.2 619.8,1620C621.9,1605.8 624.9,1577.9 627,1560C629.1,1542.1 631.8,1526.1 633.6,1500.5C635.4,1474.9 637.6,1416.6 639.2,1389.2C640.8,1361.8 643.3,1330.6 644.5,1318C645.7,1305.4 645.6,1306 647,1305C648.4,1304 652.4,1307.5 654,1311C655.6,1314.5 656.4,1316.3 657.5,1328C658.6,1339.7 659.1,1367.5 661.4,1389.2C663.7,1410.9 669.3,1451.8 672.6,1472.7C675.9,1493.6 680.4,1511.6 683.7,1528.3C687,1545 691,1569.4 694.8,1584C698.5,1598.6 704.5,1616.5 708.7,1625.7C712.9,1634.9 718.5,1641.4 722.7,1645.2C726.9,1649 732.4,1652.5 736.6,1650.8C740.8,1649.1 745.9,1641.9 750.5,1634C755.1,1626.1 762.6,1610.5 767.2,1597.9C771.8,1585.3 777.7,1562.3 781,1550C784.3,1537.7 786.5,1522.9 789,1516C791.5,1509.1 795.2,1504.7 797.7,1504.1C800.2,1503.5 804,1507.6 806,1512C808,1516.4 808.9,1520.9 811.3,1533.5C813.7,1546.1 817.7,1577.3 821.8,1596.1C825.9,1614.9 833.8,1641.6 838.5,1658.8C843.2,1676 847.7,1695.3 853,1711C858.3,1726.7 867.7,1751.6 874,1763.2C880.3,1774.8 888.5,1782.6 894.8,1788.2C901.1,1793.8 909.4,1798.2 915.7,1800.7C922,1803.2 930.3,1805 936.6,1805C942.9,1805 951.2,1802.9 957.5,1800.7C963.8,1798.5 972,1794.4 978.3,1790.3C984.6,1786.2 992.9,1779.2 999.2,1773.6C1005.5,1768 1013.7,1761.2 1020,1752.7C1026.3,1744.2 1034.7,1731.3 1041,1717.2C1047.3,1703.1 1056.8,1673.2 1061.8,1658.8C1066.8,1644.4 1070.4,1635.9 1074.5,1621.2C1078.6,1606.5 1085,1576.8 1089,1560.9C1093,1545 1097.8,1525.1 1101,1515C1104.2,1504.9 1107.5,1497.5 1110.6,1493.4C1113.7,1489.4 1117.5,1488 1121.5,1488C1125.5,1488 1132,1489.4 1137.2,1493.4C1142.5,1497.5 1150,1508.5 1156.5,1515C1163,1521.5 1174.1,1529.6 1180.6,1536.8C1187.1,1544 1194.8,1554.3 1199.9,1563.3C1205,1572.3 1210.1,1586.6 1214.4,1597.1C1218.7,1607.6 1224.5,1622.5 1228.8,1633.3C1233.1,1644.1 1239,1659.6 1243.3,1669.4C1247.6,1679.2 1253.5,1690.8 1257.8,1698.4C1262.1,1706 1267.5,1713.6 1272.3,1720.1C1277.1,1726.6 1284.4,1736.2 1290,1742C1295.6,1747.8 1303.8,1754.2 1309.7,1759C1315.6,1763.8 1323.6,1770 1329.5,1773.8C1335.4,1777.6 1343.3,1781.6 1349.2,1784.6C1355.1,1787.6 1363.1,1791.9 1369,1793.5C1374.9,1795.1 1384,1795.3 1388.7,1795.5C1393.4,1795.7 1395.4,1795.8 1400,1795C1404.6,1794.2 1413.5,1791.3 1419.4,1790C1425.3,1788.7 1433.2,1786.4 1439.1,1786.5C1445,1786.6 1453.6,1789 1458.8,1790.8C1464,1792.6 1469.2,1796 1473.7,1798.7C1478.2,1801.4 1484.1,1805.2 1488.5,1808.6C1492.9,1812 1499.6,1818.9 1503.3,1821.4C1507,1823.9 1510.5,1824.4 1513.1,1825.4C1515.7,1826.4 1519.4,1827.9 1520.5,1828.3" stroke="#FF0000"/><path d="M266.6,1849C285.4,1848.7 361.4,1847.9 391.9,1847.2C422.3,1846.5 450.7,1845.9 469.6,1844.4C488.5,1842.9 507.1,1839.5 517.7,1837C528.3,1834.5 534.1,1830.8 540,1828C545.9,1825.2 551.4,1822.8 556.7,1818C562,1813.2 571.1,1802.5 575.3,1796C579.5,1789.5 582.2,1781.8 585,1775C587.8,1768.2 590.8,1759.3 593.8,1750.8C596.8,1742.2 601.8,1728 605,1718C608.2,1708 612.6,1693.5 615.1,1684C617.6,1674.5 620,1664.6 622,1655C624,1645.4 626.3,1630 628.1,1620C629.9,1610 631.9,1601.8 634,1588C636.1,1574.2 639.9,1549.8 641.9,1528.3C643.9,1506.8 645.4,1464.8 647.5,1444.8C649.6,1424.8 653.3,1405.6 655.9,1394.7C658.5,1383.8 662.9,1377 665,1372C667.1,1367 668,1369.3 669.8,1361.3C671.6,1353.3 674.2,1318.4 676.7,1318.4C679.2,1318.4 683.8,1342.3 686.5,1361.3C689.2,1380.3 692.3,1419.8 694.8,1444.8C697.3,1469.8 700.3,1503.2 703.2,1528.3C706.1,1553.3 710.5,1591.8 714.3,1611.8C718,1631.8 724,1650.6 728.2,1661.9C732.4,1673.2 737.9,1683.7 742.1,1687C746.3,1690.3 751.4,1688.4 756,1684.2C760.6,1680 768.1,1666.6 772.7,1659.1C777.3,1651.6 783.2,1639.1 786.7,1634C790.2,1628.9 792.6,1624.6 795.7,1625.2C798.8,1625.8 803.2,1628.2 807.1,1637.9C811,1647.6 816.5,1672.8 821.8,1690C827.1,1707.2 836.3,1738 842.6,1752.7C848.9,1767.4 857.2,1778.8 863.5,1788.2C869.8,1797.6 878.1,1809.1 884.4,1815.4C890.7,1821.7 899,1827.2 905.3,1830C911.6,1832.8 919.8,1833.5 926.1,1834.1C932.4,1834.7 940.7,1834.4 947,1834.1C953.3,1833.8 961.6,1833.2 967.9,1832C974.2,1830.8 982.5,1828 988.8,1825.8C995.1,1823.6 1003.3,1821.2 1009.6,1817.4C1015.9,1813.6 1024.2,1807.3 1030.5,1800.7C1036.8,1794.1 1045.5,1782.7 1051.4,1773.6C1057.3,1764.5 1065.1,1748.4 1070,1740C1074.9,1731.6 1078.4,1728.3 1084.1,1717.7C1089.8,1707.1 1101,1683.9 1108.2,1669.4C1115.4,1654.9 1126.6,1635.7 1132.4,1621.2C1138.2,1606.7 1143.2,1587.5 1146.8,1573C1150.4,1558.5 1154.2,1536.5 1156.5,1524.7C1158.8,1512.9 1160.3,1501.5 1162,1494C1163.7,1486.5 1165.8,1474.8 1167.5,1474.5C1169.2,1474.2 1171.4,1486.4 1173,1492C1174.6,1497.6 1176.5,1505.7 1178,1512C1179.5,1518.3 1180.8,1521.2 1183,1534C1185.2,1546.8 1189.4,1578.6 1192.7,1597.1C1196,1615.6 1201.1,1642.9 1204.7,1657.4C1208.3,1671.9 1212.5,1682.8 1216.8,1693.6C1221.1,1704.4 1228.3,1719.9 1233.7,1729.7C1239.1,1739.5 1246.5,1750.7 1253,1758.7C1259.5,1766.7 1271.5,1778 1277.1,1782.8C1282.6,1787.6 1285.1,1788.4 1290,1791C1294.9,1793.6 1303.7,1797.6 1309.7,1800.4C1315.7,1803.2 1324.1,1807.5 1330,1809.5C1335.9,1811.5 1343.4,1813 1349.2,1814C1355,1815 1363.1,1816.5 1369,1816.5C1374.9,1816.5 1382.8,1816.3 1388.7,1814.3C1394.6,1812.3 1402.5,1807 1408.5,1803.4C1414.5,1799.8 1423.9,1791.5 1428.5,1790C1433.1,1788.5 1435.3,1792 1439.1,1793.5C1442.9,1795 1449.5,1797.4 1453.9,1799.7C1458.3,1802 1464.3,1805.8 1468.7,1808.6C1473.1,1811.4 1479.1,1815.5 1483.5,1818.5C1487.9,1821.5 1493.9,1825.6 1498.3,1828.3C1502.7,1831 1509.8,1834.7 1513.1,1836.2C1516.4,1837.7 1519.4,1837.9 1520.5,1838.2" stroke="#953735"/><path d="M266.6,1827.8C285.4,1827.2 363.8,1825.1 391.9,1824C419.9,1822.9 439.3,1822.1 453.6,1820.6C467.9,1819.1 478.3,1816.3 487.5,1813.8C496.7,1811.2 507.1,1807.2 514.7,1803.6C522.3,1800 532.3,1794.1 538.4,1790C544.5,1785.9 550.3,1781.1 555.4,1776.5C560.5,1771.9 568.1,1766.5 572.4,1759.5C576.7,1752.5 580.5,1741.3 584,1730C587.5,1718.7 593,1696 595.7,1684C598.4,1672 600.1,1659.6 602,1650C603.9,1640.4 607,1633.5 608.6,1620C610.2,1606.5 611.8,1577.9 613,1560C614.2,1542.1 615.5,1518.5 616.9,1500.5C618.2,1482.5 620.5,1456.6 622,1440C623.5,1423.4 625.3,1404.3 627,1390C628.7,1375.7 631.4,1342.8 633.6,1344.8C635.9,1346.8 638.7,1381.7 642,1403C645.3,1424.3 651.3,1468.6 655.9,1486.6C660.5,1504.6 668.4,1515.7 672.6,1522.7C676.8,1529.7 681.1,1529.7 684,1533C686.9,1536.3 689,1539.8 692,1545C695,1550.2 700.1,1560 704,1568C707.9,1576 714,1587.7 718,1598C722,1608.3 727.7,1623.8 731,1637C734.3,1650.2 737.1,1674.9 740,1686C742.9,1697.1 746.8,1702.1 750.5,1711C754.2,1719.9 760.2,1736.2 764.4,1745.4C768.6,1754.6 772.8,1763.1 778.3,1772C783.8,1780.9 794.4,1797.1 800.9,1804.9C807.4,1812.7 815.5,1819.6 821.8,1823.7C828.1,1827.8 833.2,1829.8 842.6,1832C852,1834.2 871.9,1837 884.4,1838.3C896.9,1839.6 913.6,1840.4 926.1,1840.4C938.6,1840.4 955.4,1838.9 967.9,1838.3C980.4,1837.7 997.1,1837.1 1009.6,1836.2C1022.1,1835.3 1040.8,1832.9 1051.4,1832C1062,1831.1 1071.5,1830.9 1080,1830C1088.5,1829.1 1093.1,1827.7 1108.2,1826.2C1123.3,1824.7 1158.9,1821.3 1180.6,1820.2C1202.3,1819.1 1232.1,1819.2 1253,1819C1273.9,1818.8 1305.5,1819 1320,1819C1334.5,1819 1341.9,1819.2 1350,1819C1358.1,1818.8 1368.2,1819.6 1374,1817.5C1379.8,1815.4 1383.5,1810.5 1388.7,1805C1393.9,1799.5 1402.6,1787.2 1408.5,1781C1414.4,1774.8 1423.6,1767.6 1428.2,1764C1432.8,1760.4 1435.8,1758.3 1439.1,1757C1442.4,1755.7 1447,1755 1450,1755.3C1453,1755.6 1456,1755.6 1458.8,1759.2C1461.6,1762.8 1465.7,1773.8 1468.7,1779C1471.7,1784.2 1474.9,1790.5 1478.6,1793.8C1482.3,1797.1 1489,1798.8 1493.4,1800.7C1497.8,1802.6 1504.1,1805 1508.2,1806.6C1512.3,1808.2 1518.7,1810.8 1520.5,1811.5" stroke="#FFC000"/><path d="M266.6,1856.5C276.1,1856.1 311.2,1854.4 330,1854C348.8,1853.6 376.9,1853.2 391.9,1853.7C406.9,1854.2 418.3,1856.2 430,1857C441.7,1857.8 456.4,1859.1 469.6,1859.2C482.8,1859.3 506.4,1857.9 517.7,1857.4C529,1856.9 536.8,1857.7 545,1856C553.2,1854.3 563.2,1852 572.1,1846C581,1840 595.8,1824.4 604.2,1816.3C612.6,1808.2 621,1799.5 628.2,1792.3C635.4,1785.1 645.8,1773.3 652.3,1768.2C658.8,1763.1 666.7,1759.4 671.5,1758.4C676.3,1757.4 680,1758.6 684.3,1761.8C688.6,1765 695.6,1774.3 700.4,1779.4C705.2,1784.5 711.6,1791.9 716.4,1795.5C721.2,1799.1 725.3,1801.6 732.5,1803.5C739.7,1805.4 754.2,1806.2 764.5,1808.3C774.8,1810.4 792.3,1814.5 800.9,1817.4C809.5,1820.3 814,1824.5 821.8,1827.9C829.6,1831.4 843.6,1837 853,1840.4C862.4,1843.8 873.4,1848.3 884.4,1850.8C895.4,1853.3 913.6,1855.5 926.1,1857.1C938.6,1858.7 955.4,1860.2 967.9,1861.3C980.4,1862.4 997.1,1863.8 1009.6,1864.4C1022.1,1865 1040.8,1865 1051.4,1865.4C1062,1865.8 1067.8,1866.9 1080,1867C1092.2,1867.1 1113.7,1866.2 1132.4,1866C1151.1,1865.8 1176.6,1865.8 1204.7,1866C1232.8,1866.2 1296.7,1867 1320,1867C1343.3,1867 1351,1866.8 1360,1866C1369,1865.2 1375.2,1863.6 1380,1862C1384.8,1860.4 1387.3,1858.3 1391.7,1855.5C1396.1,1852.7 1403.9,1846.6 1409.5,1843C1415.1,1839.4 1423.3,1833.1 1429.2,1831.3C1435.1,1829.5 1443.1,1830.6 1449,1831.3C1454.9,1832 1462.8,1834.7 1468.7,1836.2C1474.6,1837.7 1482.6,1839.7 1488.5,1841.2C1494.4,1842.7 1503.4,1845.1 1508.2,1846.1C1513,1847.1 1518.7,1847.8 1520.5,1848.1" stroke="#00B0F0"/><path d="M266.6,1835.2C276.1,1835 311.2,1834.6 330,1834C348.8,1833.4 375.4,1832.6 391.9,1831.5C408.4,1830.4 428.3,1827.9 440,1826.5C451.7,1825.1 460.6,1824.1 469.6,1822.2C478.6,1820.3 492.4,1816.4 500,1814C507.6,1811.6 514,1808.7 520,1806C526,1803.3 535.6,1798.8 540,1796C544.4,1793.2 546.3,1790.6 549.3,1787C552.3,1783.4 556.7,1777.4 560,1772C563.3,1766.6 568.5,1758.3 571.5,1750.8C574.5,1743.3 577.3,1732 580,1722C582.7,1712 586.8,1694.8 589.2,1684C591.6,1673.2 594,1659.6 596,1650C598,1640.4 600.6,1630.5 602.2,1620C603.9,1609.5 605.6,1593.8 607,1580C608.4,1566.2 609.4,1552.8 611.3,1528.3C613.2,1503.8 617.5,1442.2 619.7,1417C621.9,1391.8 624.3,1373.1 626,1360C627.7,1346.9 629.2,1325.1 630.8,1329.5C632.4,1333.9 634.3,1367.7 636.4,1389.2C638.5,1410.7 641.8,1454.8 644.7,1472.7C647.6,1490.6 652.6,1500.9 655.9,1508.8C659.2,1516.7 663.2,1520.5 667,1525.5C670.8,1530.5 676.8,1536.4 681,1542.2C685.2,1548 690.6,1557 694.8,1564.5C699,1572 704.5,1583.5 708.7,1592.3C712.9,1601.1 718.5,1613 722.7,1623C726.9,1633 732.4,1649.1 736.6,1659.1C740.8,1669.1 746.3,1680.1 750.5,1689.7C754.7,1699.3 760.2,1713.9 764.4,1723.1C768.6,1732.3 773,1741.2 778.3,1751C783.6,1760.8 793.5,1778.9 800,1788.2C806.5,1797.5 815.4,1807 821.8,1813.3C828.2,1819.6 836.3,1826.2 842.6,1830C848.9,1833.8 854.1,1836.4 863.5,1838.3C872.9,1840.2 892.8,1841.6 905.3,1842.5C917.8,1843.4 934.5,1844.3 947,1844.6C959.5,1844.9 976.3,1844.8 988.8,1844.6C1001.3,1844.4 1019.8,1843.2 1030.5,1843C1041.2,1842.8 1048.3,1843.7 1060,1843C1071.7,1842.3 1090.1,1840.8 1108.2,1838.3C1126.3,1835.8 1158.9,1828.4 1180.6,1826.2C1202.3,1824 1232.1,1824.1 1253,1823.8C1273.9,1823.5 1306.2,1823.5 1320,1824C1333.8,1824.5 1337.7,1826.8 1345,1827C1352.3,1827.2 1362.4,1826.9 1369,1825C1375.6,1823.1 1382.8,1819 1388.7,1814.3C1394.6,1809.6 1402.6,1800.3 1408.5,1793.5C1414.4,1786.7 1423.6,1775.3 1428.2,1768.8C1432.8,1762.3 1435.8,1753.4 1439.1,1750C1442.4,1746.6 1446.7,1746.5 1450,1746.4C1453.3,1746.3 1458,1746.9 1460.8,1749.4C1463.6,1751.9 1466,1758.5 1468.7,1763.2C1471.4,1767.9 1475.6,1776.3 1478.6,1781C1481.6,1785.7 1485.5,1791.4 1488.5,1794.8C1491.5,1798.2 1495,1801.5 1498.3,1803.7C1501.6,1805.9 1506.9,1808.1 1510.2,1809.6C1513.5,1811.1 1519,1812.9 1520.5,1813.5" stroke="#0070C0"/><path d="M266.6,1887C285.4,1886.3 361.4,1885.2 391.9,1882.4C422.3,1879.6 450.7,1872 469.6,1868.5C488.5,1865 507.1,1861.7 517.7,1859.2C528.3,1856.7 533.1,1855.1 540,1851.6C546.9,1848.1 558.1,1841 564,1836C569.9,1831 574.8,1825.3 579,1818C583.2,1810.7 588.4,1797.1 592,1787C595.6,1776.9 600.3,1759.7 603.1,1750.8C605.9,1741.9 608.1,1727.5 610.5,1727.5C612.9,1727.5 616.4,1745.2 618.8,1750.8C621.2,1756.4 624,1762.2 626.6,1765C629.2,1767.8 631.1,1769.1 636.2,1769.8C641.3,1770.5 653.1,1769.9 660.3,1769.8C667.5,1769.7 678.3,1768.5 684.3,1769C690.3,1769.5 695.6,1771 700.4,1773C705.2,1775 711.6,1780.2 716.4,1782.6C721.2,1785 727.7,1787.8 732.5,1789C737.3,1790.2 743.7,1788.3 748.5,1790.7C753.3,1793.1 760.2,1799.6 764.5,1805.1C768.8,1810.6 773.5,1821.8 777.4,1827.6C781.3,1833.4 785.1,1838.9 790.2,1843.6C795.3,1848.3 803.4,1855.3 811.3,1859.2C819.2,1863.1 831.6,1867.4 842.6,1869.6C853.6,1871.8 868.7,1873 884.4,1873.8C900.1,1874.6 928.2,1874.5 947,1874.8C965.8,1875.1 989.6,1875.4 1009.6,1875.9C1029.5,1876.4 1061.6,1877.7 1080,1878C1098.4,1878.3 1113.7,1878.4 1132.4,1878.1C1151.1,1877.8 1176.6,1876.5 1204.7,1875.7C1232.8,1874.9 1299.7,1873.8 1320,1873C1340.3,1872.2 1333.9,1871.7 1340,1870.5C1346.1,1869.3 1355,1867.6 1360.8,1865C1366.6,1862.4 1374.2,1856.3 1378.8,1853C1383.4,1849.7 1387.9,1847 1391.7,1843C1395.5,1839 1400.3,1831.5 1404,1826C1407.7,1820.5 1413.5,1812.8 1416.4,1806C1419.3,1799.2 1421.5,1786 1423.3,1781C1425.1,1776 1426.7,1773 1428.5,1773C1430.3,1773 1433.2,1776.4 1435.2,1781C1437.2,1785.6 1440,1798.4 1442.1,1803.7C1444.2,1809 1446.5,1813.7 1449,1816.5C1451.5,1819.3 1455.1,1821.4 1458.8,1822.4C1462.5,1823.4 1469.2,1824 1473.7,1823.4C1478.2,1822.8 1484.4,1819.7 1488.5,1818.5C1492.6,1817.3 1497.6,1815.2 1501.3,1815.5C1505,1815.8 1510.2,1818.5 1513.1,1820.4C1516,1822.3 1519.4,1827.1 1520.5,1828.3" stroke="#00B050"/></g><rect x="270.5" y="104.5" width="1254.5" height="787" fill="none" stroke="#111" stroke-width="3"/><rect x="266.6" y="1154" width="1253.9" height="795" fill="none" stroke="#111" stroke-width="3"/><rect x="368.2" y="130.4" width="687.8" height="209" fill="#fff" stroke="#1e1e1e" stroke-width="2.6"/><line x1="396" y1="157.4" x2="472" y2="157.4" stroke="#7030A0" stroke-width="7.6"/><text x="475.5" y="167.9" font-family="'Liberation Serif', 'Times New Roman', serif" font-size="35.5" font-weight="normal" text-anchor="start" fill="#1c1c1c">Zn4B6O13</text><line x1="740.5" y1="157.4" x2="817.5" y2="157.4" stroke="#0033A6" stroke-width="7.6"/><text x="821.5" y="167.9" font-family="'Liberation Serif', 'Times New Roman', serif" font-size="35.5" font-weight="normal" text-anchor="start" fill="#1c1c1c">10% Zn2SiO4</text><line x1="396" y1="209.8" x2="472" y2="209.8" stroke="#FF0000" stroke-width="7.6"/><text x="475.5" y="220.3" font-family="'Liberation Serif', 'Times New Roman', serif" font-size="35.5" font-weight="normal" text-anchor="start" fill="#1c1c1c">13% Zn2SiO4</text><line x1="740.5" y1="209.8" x2="817.5" y2="209.8" stroke="#953735" stroke-width="7.6"/><text x="821.5" y="220.3" font-family="'Liberation Serif', 'Times New Roman', serif" font-size="35.5" font-weight="normal" text-anchor="start" fill="#1c1c1c">20% Zn2SiO4</text><line x1="396" y1="261.8" x2="472" y2="261.8" stroke="#FFC000" stroke-width="7.6"/><text x="475.5" y="272.3" font-family="'Liberation Serif', 'Times New Roman', serif" font-size="35.5" font-weight="normal" text-anchor="start" fill="#1c1c1c">40% Zn2SiO4</text><line x1="740.5" y1="261.8" x2="817.5" y2="261.8" stroke="#00B0F0" stroke-width="7.6"/><text x="821.5" y="272.3" font-family="'Liberation Serif', 'Times New Roman', serif" font-size="35.5" font-weight="normal" text-anchor="start" fill="#1c1c1c">50% Zn2SiO4</text><line x1="396" y1="314.2" x2="472" y2="314.2" stroke="#0070C0" stroke-width="7.6"/><text x="475.5" y="324.7" font-family="'Liberation Serif', 'Times New Roman', serif" font-size="35.5" font-weight="normal" text-anchor="start" fill="#1c1c1c">60% Zn2SiO4</text><line x1="740.5" y1="314.2" x2="817.5" y2="314.2" stroke="#00B050" stroke-width="7.6"/><text x="821.5" y="324.7" font-family="'Liberation Serif', 'Times New Roman', serif" font-size="35.5" font-weight="normal" text-anchor="start" fill="#1c1c1c">Zn2SiO4</text><rect x="828.7" y="1162.6" width="687.3" height="203.1" fill="#fff" stroke="#1e1e1e" stroke-width="2.6"/><line x1="858.5" y1="1187.4" x2="934.5" y2="1187.4" stroke="#7030A0" stroke-width="7.6"/><text x="936.8" y="1198.4" font-family="'Liberation Serif', 'Times New Roman', serif" font-size="35.5" font-weight="normal" text-anchor="start" fill="#1c1c1c">Zn4B6O13</text><line x1="1203.5" y1="1187.4" x2="1278" y2="1187.4" stroke="#0033A6" stroke-width="7.6"/><text x="1282.3" y="1198.4" font-family="'Liberation Serif', 'Times New Roman', serif" font-size="35.5" font-weight="normal" text-anchor="start" fill="#1c1c1c">10% Zn2SiO4</text><line x1="858.5" y1="1238.8" x2="934.5" y2="1238.8" stroke="#FF0000" stroke-width="7.6"/><text x="936.8" y="1249.8" font-family="'Liberation Serif', 'Times New Roman', serif" font-size="35.5" font-weight="normal" text-anchor="start" fill="#1c1c1c">13% Zn2SiO4</text><line x1="1203.5" y1="1238.8" x2="1278" y2="1238.8" stroke="#953735" stroke-width="7.6"/><text x="1282.3" y="1249.8" font-family="'Liberation Serif', 'Times New Roman', serif" font-size="35.5" font-weight="normal" text-anchor="start" fill="#1c1c1c">20% Zn2SiO4</text><line x1="858.5" y1="1289.4" x2="934.5" y2="1289.4" stroke="#FFC000" stroke-width="7.6"/><text x="936.8" y="1300.4" font-family="'Liberation Serif', 'Times New Roman', serif" font-size="35.5" font-weight="normal" text-anchor="start" fill="#1c1c1c">40% Zn2SiO4</text><line x1="1203.5" y1="1289.4" x2="1278" y2="1289.4" stroke="#00B0F0" stroke-width="7.6"/><text x="1282.3" y="1300.4" font-family="'Liberation Serif', 'Times New Roman', serif" font-size="35.5" font-weight="normal" text-anchor="start" fill="#1c1c1c">50% Zn2SiO4</text><line x1="858.5" y1="1340.3" x2="934.5" y2="1340.3" stroke="#0070C0" stroke-width="7.6"/><text x="936.8" y="1351.3" font-family="'Liberation Serif', 'Times New Roman', serif" font-size="35.5" font-weight="normal" text-anchor="start" fill="#1c1c1c">60% Zn2SiO4</text><line x1="1203.5" y1="1340.3" x2="1278" y2="1340.3" stroke="#00B050" stroke-width="7.6"/><text x="1282.3" y="1351.3" font-family="'Liberation Serif', 'Times New Roman', serif" font-size="35.5" font-weight="normal" text-anchor="start" fill="#1c1c1c">Zn2SiO4</text><text x="234" y="906.3" font-family="'Liberation Serif', 'Times New Roman', serif" font-size="43.5" font-weight="bold" text-anchor="end" fill="#0a0a0a">0.00</text><text x="231.5" y="1963.6" font-family="'Liberation Serif', 'Times New Roman', serif" font-size="43.5" font-weight="bold" text-anchor="end" fill="#0a0a0a">0.00</text><text x="234" y="775.1" font-family="'Liberation Serif', 'Times New Roman', serif" font-size="43.5" font-weight="bold" text-anchor="end" fill="#0a0a0a">0.01</text><text x="231.5" y="1831.1" font-family="'Liberation Serif', 'Times New Roman', serif" font-size="43.5" font-weight="bold" text-anchor="end" fill="#0a0a0a">0.01</text><text x="234" y="644" font-family="'Liberation Serif', 'Times New Roman', serif" font-size="43.5" font-weight="bold" text-anchor="end" fill="#0a0a0a">0.02</text><text x="231.5" y="1698.6" font-family="'Liberation Serif', 'Times New Roman', serif" font-size="43.5" font-weight="bold" text-anchor="end" fill="#0a0a0a">0.02</text><text x="234" y="512.8" font-family="'Liberation Serif', 'Times New Roman', serif" font-size="43.5" font-weight="bold" text-anchor="end" fill="#0a0a0a">0.03</text><text x="231.5" y="1566.1" font-family="'Liberation Serif', 'Times New Roman', serif" font-size="43.5" font-weight="bold" text-anchor="end" fill="#0a0a0a">0.03</text><text x="234" y="381.6" font-family="'Liberation Serif', 'Times New Roman', serif" font-size="43.5" font-weight="bold" text-anchor="end" fill="#0a0a0a">0.04</text><text x="231.5" y="1433.6" font-family="'Liberation Serif', 'Times New Roman', serif" font-size="43.5" font-weight="bold" text-anchor="end" fill="#0a0a0a">0.04</text><text x="234" y="250.5" font-family="'Liberation Serif', 'Times New Roman', serif" font-size="43.5" font-weight="bold" text-anchor="end" fill="#0a0a0a">0.05</text><text x="231.5" y="1301.1" font-family="'Liberation Serif', 'Times New Roman', serif" font-size="43.5" font-weight="bold" text-anchor="end" fill="#0a0a0a">0.05</text><text x="234" y="119.3" font-family="'Liberation Serif', 'Times New Roman', serif" font-size="43.5" font-weight="bold" text-anchor="end" fill="#0a0a0a">0.06</text><text x="231.5" y="1168.6" font-family="'Liberation Serif', 'Times New Roman', serif" font-size="43.5" font-weight="bold" text-anchor="end" fill="#0a0a0a">0.06</text><text x="269.3" y="956.5" font-family="'Liberation Serif', 'Times New Roman', serif" font-size="44" font-weight="bold" text-anchor="middle" fill="#0a0a0a">0.1</text><text x="1054" y="956.5" font-family="'Liberation Serif', 'Times New Roman', serif" font-size="44" font-weight="bold" text-anchor="middle" fill="#0a0a0a">1</text><text x="266.6" y="2013" font-family="'Liberation Serif', 'Times New Roman', serif" font-size="44" font-weight="bold" text-anchor="middle" fill="#0a0a0a">2.0</text><text x="517.4" y="2013" font-family="'Liberation Serif', 'Times New Roman', serif" font-size="44" font-weight="bold" text-anchor="middle" fill="#0a0a0a">2.2</text><text x="768.2" y="2013" font-family="'Liberation Serif', 'Times New Roman', serif" font-size="44" font-weight="bold" text-anchor="middle" fill="#0a0a0a">2.4</text><text x="1018.9" y="2013" font-family="'Liberation Serif', 'Times New Roman', serif" font-size="44" font-weight="bold" text-anchor="middle" fill="#0a0a0a">2.6</text><text x="1269.7" y="2013" font-family="'Liberation Serif', 'Times New Roman', serif" font-size="44" font-weight="bold" text-anchor="middle" fill="#0a0a0a">2.8</text><text x="1520.5" y="2013" font-family="'Liberation Serif', 'Times New Roman', serif" font-size="44" font-weight="bold" text-anchor="middle" fill="#0a0a0a">3.0</text><text x="850.5" y="1023.5" font-family="'Liberation Serif', 'Times New Roman', serif" font-size="50" font-weight="bold" text-anchor="middle" fill="#0a0a0a">Frequency (THz)</text><text x="854.8" y="2093.6" font-family="'Liberation Serif', 'Times New Roman', serif" font-size="50" font-weight="bold" text-anchor="middle" fill="#0a0a0a">Frequency (THz)</text><text transform="translate(112,454.5) rotate(-90)" x="0" y="0" font-family="'Liberation Serif', 'Times New Roman', serif" font-size="52" font-weight="bold" text-anchor="middle" fill="#0a0a0a" textLength="394" lengthAdjust="spacingAndGlyphs" xml:space="preserve">Dissipation  factor</text><text transform="translate(111,1516.4) rotate(-90)" x="0" y="0" font-family="'Liberation Serif', 'Times New Roman', serif" font-size="52" font-weight="bold" text-anchor="middle" fill="#0a0a0a" textLength="387" lengthAdjust="spacingAndGlyphs" xml:space="preserve">Dissipation  factor</text><text x="50" y="108" font-family="'Liberation Serif', 'Times New Roman', serif" font-size="66" font-weight="normal" text-anchor="start" fill="#1a1a1a">a</text><text x="50.5" y="1188.5" font-family="'Liberation Serif', 'Times New Roman', serif" font-size="67" font-weight="normal" text-anchor="start" fill="#1a1a1a">b</text><text x="922" y="86" font-family="'Liberation Sans', Arial, sans-serif" font-size="40.5" font-weight="bold" text-anchor="middle" fill="#0a0a0a">20°C</text><text x="1268.7" y="160.5" font-family="'Liberation Serif', 'Times New Roman', serif" font-size="36" font-weight="normal" text-anchor="start" fill="#303030">2.3 THz</text><text x="1367" y="300" font-family="'Liberation Serif', 'Times New Roman', serif" font-size="36" font-weight="normal" text-anchor="start" fill="#303030">2.7 THz</text><text x="1128.8" y="337.6" font-family="'Liberation Serif', 'Times New Roman', serif" font-size="36" font-weight="normal" text-anchor="start" fill="#303030">2.4 THz</text><text x="426.1" y="1260.1" font-family="'Liberation Serif', 'Times New Roman', serif" font-size="36" font-weight="normal" text-anchor="start" fill="#303030">2.29 THz</text><text x="648.2" y="1215.7" font-family="'Liberation Serif', 'Times New Roman', serif" font-size="36" font-weight="normal" text-anchor="start" fill="#303030">2.33 THz</text><text x="746.3" y="1412" font-family="'Liberation Serif', 'Times New Roman', serif" font-size="36" font-weight="normal" text-anchor="start" fill="#303030">2.42 THz</text><text x="1046.1" y="1412" font-family="'Liberation Serif', 'Times New Roman', serif" font-size="36" font-weight="normal" text-anchor="start" fill="#303030">2.69 THz</text><text x="1282.5" y="1451.6" font-family="'Liberation Serif', 'Times New Roman', serif" font-size="36" font-weight="normal" text-anchor="start" fill="#303030">2.72 THz</text><text x="926.2" y="1541.9" font-family="'Liberation Serif', 'Times New Roman', serif" font-size="36" font-weight="normal" text-anchor="start" fill="#303030">2.59 THz</text><text x="1245" y="1583.8" font-family="'Liberation Serif', 'Times New Roman', serif" font-size="36" font-weight="normal" text-anchor="start" fill="#303030">2.81 THz</text><text x="1436" y="600.7" font-family="'Liberation Sans', Arial, sans-serif" font-size="35.5" font-weight="normal" text-anchor="start" fill="#303030" textLength="114" lengthAdjust="spacingAndGlyphs">2.9 THz</text><text x="1350.7" y="1660.6" font-family="'Liberation Sans', Arial, sans-serif" font-size="36" font-weight="normal" text-anchor="start" fill="#303030" textLength="130" lengthAdjust="spacingAndGlyphs">2.93 THz</text><line x1="1335" y1="174.7" x2="1335" y2="222.5" stroke="#00B050" stroke-width="3.5"/><polygon points="1324.5,220.5 1345.5,220.5 1335,240.5" fill="#00B050"/><line x1="1389.4" y1="320" x2="1389.4" y2="383.5" stroke="#7030A0" stroke-width="3.5"/><polygon points="1378.9,381.5 1399.9,381.5 1389.4,401.5" fill="#7030A0"/><line x1="1283" y1="381" x2="1342.6" y2="427.9" stroke="#7030A0" stroke-width="3.5"/><polygon points="1334.6,434.9 1347.6,418.4 1356.8,439" fill="#7030A0"/><line x1="1454" y1="619" x2="1434.6" y2="660.7" stroke="#00B050" stroke-width="3.5"/><polygon points="1425.9,654.4 1445,663.3 1427,677" fill="#00B050"/><line x1="570.3" y1="1267.5" x2="617" y2="1307.6" stroke="#00B050" stroke-width="3.5"/><polygon points="608.7,1314.3 622.4,1298.3 630.7,1319.3" fill="#00B050"/><line x1="681.3" y1="1242.8" x2="681.3" y2="1285.3" stroke="#984807" stroke-width="3.5"/><polygon points="670.8,1283.3 691.8,1283.3 681.3,1303.3" fill="#984807"/><line x1="801" y1="1428.1" x2="801" y2="1474.3" stroke="#7030A0" stroke-width="3.5"/><polygon points="790.5,1472.3 811.5,1472.3 801,1492.3" fill="#7030A0"/><line x1="1108.8" y1="1424.4" x2="1116" y2="1457.4" stroke="#7030A0" stroke-width="3.5"/><polygon points="1105.4,1457.7 1125.9,1453.2 1119.9,1475" fill="#7030A0"/><line x1="1263.8" y1="1442.7" x2="1201.9" y2="1462.8" stroke="#984807" stroke-width="3.5"/><polygon points="1200.6,1452.2 1207.1,1472.2 1184.8,1468.4" fill="#984807"/><line x1="1001.3" y1="1575.3" x2="1001.3" y2="1621" stroke="#7030A0" stroke-width="3.5"/><polygon points="990.8,1619 1011.8,1619 1001.3,1639" fill="#7030A0"/><line x1="1290.8" y1="1604.6" x2="1290.8" y2="1652.7" stroke="#7030A0" stroke-width="3.5"/><polygon points="1280.3,1650.7 1301.3,1650.7 1290.8,1670.7" fill="#7030A0"/><line x1="1428.8" y1="1680.7" x2="1428.8" y2="1729" stroke="#00B050" stroke-width="3.5"/><polygon points="1418.3,1727 1439.3,1727 1428.8,1747" fill="#00B050"/></svg>
</body></html>
